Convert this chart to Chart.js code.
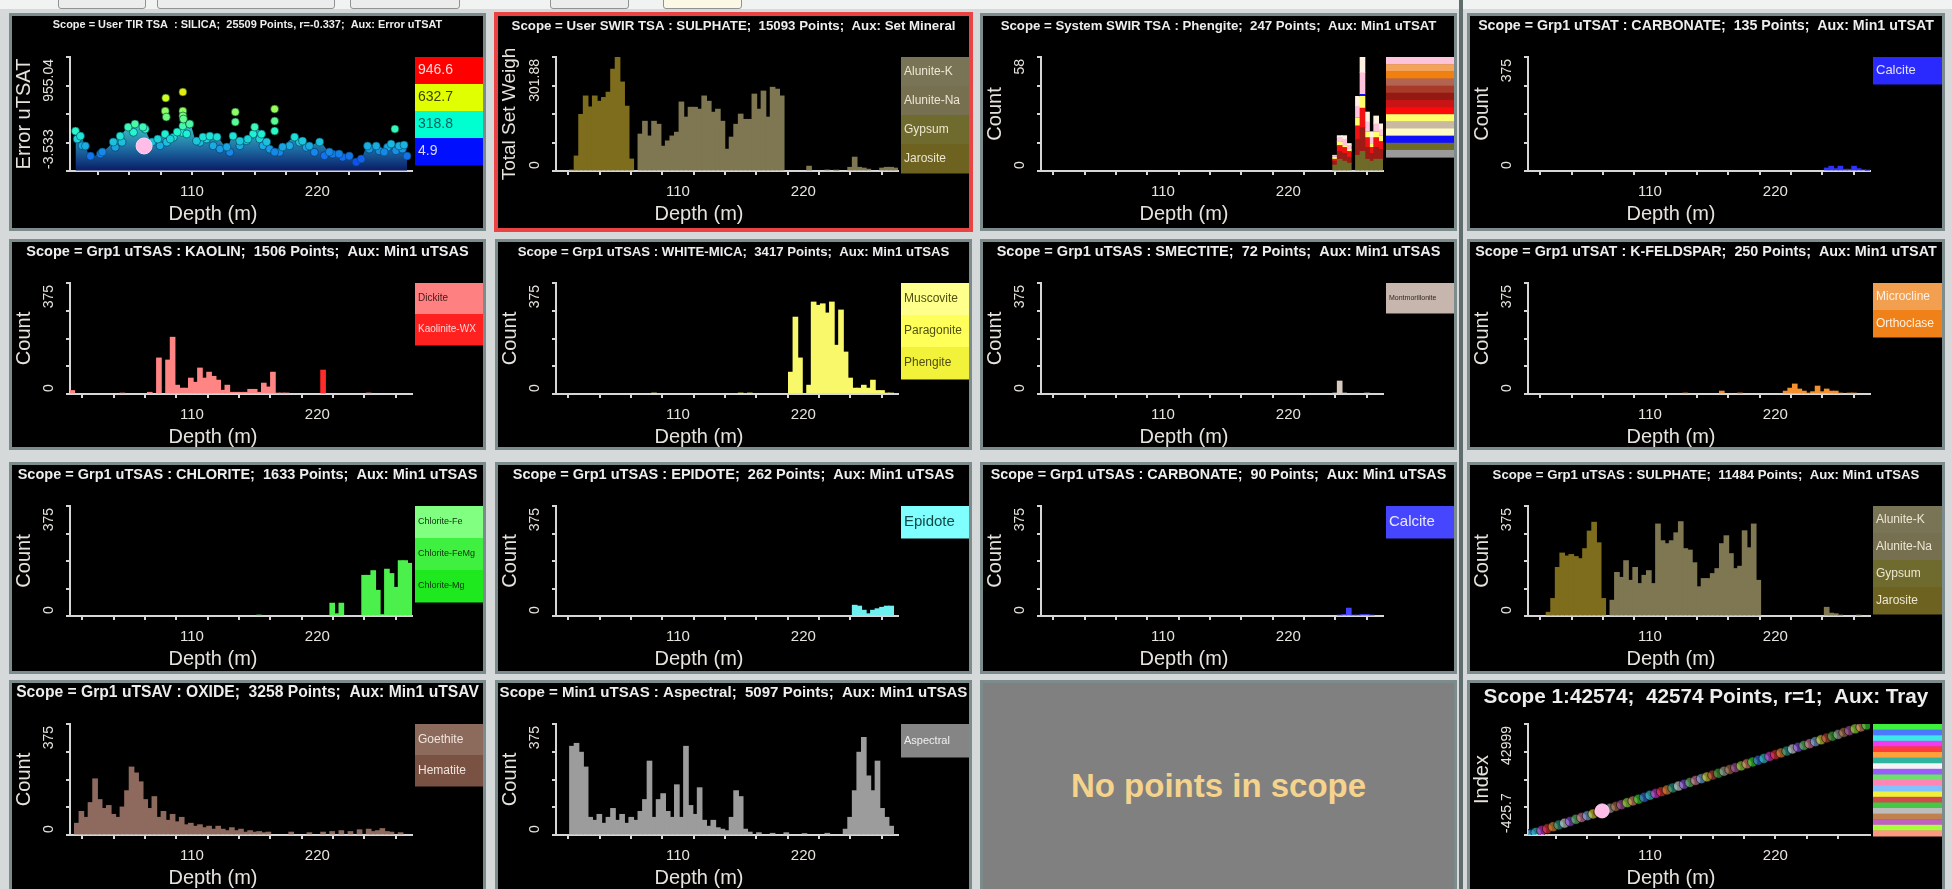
<!DOCTYPE html>
<html>
<head>
<meta charset="utf-8">
<title>Scope histograms</title>
<script src="https://cdn.jsdelivr.net/npm/chart.js@4.4.1/dist/chart.umd.min.js"></script>
<style>
  html, body { margin: 0; padding: 0; }
  body { width: 1952px; height: 889px; overflow: hidden; position: relative; background: #d5d9d9; font-family: "Liberation Sans", Arial, sans-serif; }
  .toolbar { position: absolute; left: 0; top: 0; width: 1952px; height: 9px; background: #f1f2f2; }
  .btn { position: absolute; top: -5px; height: 12px; border: 1px solid #8e9292; border-radius: 3px; background: #ececec; }
  .frame { position: absolute; background: #7c8b8b; }
  .panel { position: absolute; background: #000; overflow: hidden; }
  .panel canvas { display: block; }
  .selected { position: absolute; left: 494px; top: 12px; width: 479px; height: 220px; background: #ea4343; }
  .splitter { position: absolute; left: 1459px; top: 0; width: 4px; height: 889px; background: #5f6d6d; }
  .empty { background: #808080; display: flex; align-items: center; justify-content: center; color: #f6d38d; font-weight: bold; font-size: 33px; }
</style>
</head>
<body>
<div class="toolbar">
  <div class="btn" style="left:58px;width:86px"></div>
  <div class="btn" style="left:157px;width:176px"></div>
  <div class="btn" style="left:350px;width:108px"></div>
  <div class="btn" style="left:550px;width:77px"></div>
  <div class="btn" style="left:663px;width:77px;background:#fbf8e6"></div>
</div>
<div class="splitter"></div>
<div id="board"><div class="selected"></div></div>
<script>
// ---- depth axis (m) ----
const depthMin = 3;
const depthMax = 303;
const depthTicks = [27.5, 55, 82.5, 110, 137.5, 165, 192.5, 220, 247.5, 275];
const depthTickLabels = [110, 220];

// ---- SILICA, Error uTSAT (User TIR TSA) ----
const silicaTopDepth = [7.8, 12.2, 16.5, 21, 31.4, 41, 47, 54, 60, 67, 75, 80, 86.4, 91, 97, 102, 108, 114, 119.6, 125.7, 132, 140.6, 146, 152, 159, 165, 171, 175.5, 182.5, 189.5, 200, 207, 213, 222, 230.5, 239, 248, 254, 258.5, 264, 271.6, 278.6, 284.7, 291.7, 296, 298.6];
const silicaTopError = [332, 290, 207, 122, 156, 240, 290, 366, 392, 366, 240, 265, 307, 265, 324, 375, 392, 248, 282, 290, 282, 198, 290, 248, 265, 366, 307, 240, 156, 198, 282, 248, 207, 240, 156, 140, 122, 72, 98, 207, 207, 156, 224, 207, 215, 122];
const silicaInnerDepth = [9.3, 13.6, 29.7, 42.7, 48.6, 58.7, 69, 82, 87.9, 93.7, 101, 105.4, 117, 122.8, 128.6, 134.5, 143.2, 152, 157.8, 163.6, 169.4, 172.3, 178.1, 186.9, 195.6, 204.3, 210.2, 217.4, 226.2, 233.4, 242.1, 265.5, 274.2, 281.5, 288.8, 294.6];
const silicaInnerError = [266, 209, 139, 196, 238, 322, 349, 209, 238, 280, 322, 308, 238, 266, 209, 181, 154, 209, 251, 308, 266, 209, 181, 154, 209, 238, 196, 154, 125, 139, 112, 181, 167, 196, 167, 181];
const silicaHighDepth = [87, 86.5, 87.5, 102, 102, 102, 102.5, 108, 148, 148, 182.5, 182.5, 182.5, 288];
const silicaHighError = [610, 500, 450, 660, 500, 459, 433, 392, 492, 408, 517, 417, 333, 350];
const errorScaleValues = [946.6, 632.7, 318.8, 4.9];
const errorScaleColors = ['#ff1010', '#e0ff10', '#20f8d0', '#1020ff'];

// selected sample
const selectedDepth = [68];
const selectedError = [207];
const selectedIndex = [9000];

// ---- SULPHATE (User SWIR TSA, Total Set Weight) ----
const sulphateMinerals = ['Alunite-K', 'Alunite-Na', 'Gypsum', 'Jarosite'];
const swirJarositeDepth = [17, 21, 25, 29, 33, 37, 41, 45, 49, 53, 57, 61, 65, 69];
const swirJarositeWeight = [3, 40, 150, 199, 170, 199, 185, 195, 209, 270, 301, 236, 172, 32];
const swirAluniteDepth = [77, 81, 85, 89, 93, 97, 101, 105, 109, 113, 117, 121, 125, 129, 133, 137, 141, 145, 149, 153, 157, 161, 165, 169, 173, 177, 181, 185, 189, 193, 197, 201, 225, 241, 249, 261, 265, 269, 273, 277, 289, 293, 297, 301];
const swirAluniteWeight = [98, 132, 93, 132, 124, 66, 80, 93, 103, 183, 143, 169, 169, 164, 199, 185, 156, 164, 132, 58, 90, 124, 151, 137, 137, 204, 164, 212, 143, 222, 217, 199, 13, 3, 2, 10, 37, 10, 8, 5, 8, 10, 10, 8];

// ---- Phengite (System SWIR TSA), stacked by Min1 uTSAT ----
const phengiteDepth = [261, 265, 269, 273, 281, 285, 289, 293, 297, 301];
const phengiteQuartz = [3, 6, 5, 4, 8, 10, 6, 5, 6, 6];
const phengiteOrthoclase = [2, 4, 4, 3, 8, 12, 6, 4, 6, 5];
const phengiteAlbite = [1, 3, 3, 3, 7, 10, 5, 3, 5, 4];
const phengiteGypsum = [1, 2, 1, 1, 4, 6, 3, 2, 3, 3];
const phengiteOpal = [0, 0, 0, 0, 0, 1, 0, 0, 0, 0];
const phengiteMuscovite = [1, 2, 3, 2, 6, 11, 5, 3, 4, 3];
const phengiteJarosite = [0, 1, 2, 1, 5, 8, 5, 3, 4, 3];
const phengiteKeyColors = ['#ffc4dc', '#f3a35a', '#f08010', '#b36450', '#a83a2a', '#921a12', '#c81414', '#ff0a0a', '#ffff6e', '#c9b9a3', '#fffcc4', '#1010ff', '#6e6a28', '#9a9a9a'];

// ---- CARBONATE (Grp1 uTSAT) ----
const calciteTDepth = [265, 269, 273, 277, 281, 285, 289, 293, 297, 301];
const calciteTCount = [10, 16, 8, 16, 6, 6, 16, 8, 4, 2];

// ---- KAOLIN ----
const dickiteDepth = [5, 49, 73, 81, 89, 93, 97, 101, 105, 109, 113, 117, 121, 125, 129, 133, 137, 141, 145, 149, 153, 157, 161, 165, 169, 173, 177, 181, 185, 189, 193, 265];
const dickiteCount = [12, 3, 6, 122, 115, 192, 30, 20, 20, 54, 40, 88, 54, 74, 60, 47, 13, 30, 6, 6, 6, 6, 16, 16, 6, 37, 24, 74, 3, 3, 3, 3];
const kaoliniteDepth = [225];
const kaoliniteCount = [81];

// ---- WHITE-MICA ----
const whiteMicaDepth = [89, 165, 173, 209, 213, 217, 225, 229, 233, 237, 241, 245, 249, 253, 257, 261, 265, 269, 273, 277, 281, 285, 289, 293, 297];
const whiteMicaCount = [3, 2, 3, 74, 260, 122, 30, 311, 300, 305, 274, 311, 165, 284, 142, 54, 20, 20, 30, 20, 47, 12, 12, 3, 3];

// ---- SMECTITE ----
const smectiteDepth = [261, 265, 269, 289];
const smectiteCount = [3, 44, 3, 2];

// ---- K-FELDSPAR ----
const kfeldsparDepth = [141, 173, 189, 229, 233, 237, 241, 245, 249, 253, 257, 261, 265, 269, 273, 277, 285, 289];
const kfeldsparCount = [3, 10, 2, 10, 20, 34, 17, 10, 3, 8, 27, 8, 17, 10, 10, 3, 3, 3];

// ---- CHLORITE ----
const chloriteDepth = [169, 233, 237, 241, 261, 265, 269, 273, 277, 281, 285, 289, 293, 297, 301];
const chloriteCount = [3, 44, 8, 44, 139, 139, 155, 88, 5, 160, 145, 98, 189, 189, 180];

// ---- EPIDOTE ----
const epidoteDepth = [265, 269, 273, 277, 281, 285, 289, 293, 297];
const epidoteCount = [37, 34, 20, 8, 20, 25, 30, 34, 34];

// ---- CARBONATE (Grp1 uTSAS) ----
const calciteSDepth = [265, 269, 273, 277, 281, 285, 289, 293];
const calciteSCount = [3, 5, 27, 3, 3, 5, 5, 3];

// ---- SULPHATE (Grp1 uTSAS) ----
const tsasJarositeDepth = [21, 25, 29, 33, 37, 41, 45, 49, 53, 57, 61, 65, 69];
const tsasJarositeCount = [13, 60, 166, 215, 205, 210, 203, 196, 230, 290, 320, 250, 60];
const tsasAluniteDepth = [77, 81, 85, 89, 93, 97, 101, 105, 109, 113, 117, 121, 125, 129, 133, 137, 141, 145, 149, 153, 157, 161, 165, 169, 173, 177, 181, 185, 189, 193, 197, 201, 205, 265, 269, 273, 277, 293];
const tsasAluniteCount = [54, 149, 132, 189, 122, 166, 111, 139, 155, 111, 314, 257, 247, 257, 284, 322, 230, 225, 182, 100, 128, 128, 145, 162, 247, 274, 213, 162, 170, 291, 233, 314, 122, 30, 10, 8, 3, 3];

// ---- OXIDE (Grp1 uTSAV) ----
const oxideDepth = [9, 13, 17, 21, 25, 29, 33, 37, 41, 45, 49, 53, 57, 61, 65, 69, 73, 77, 81, 85, 89, 93, 97, 101, 105, 109, 113, 117, 121, 125, 129, 133, 137, 141, 145, 149, 153, 157, 161, 165, 169, 173, 177, 197, 213, 225, 233, 241, 249, 257, 265, 269, 273, 277, 281, 285, 293];
const oxideCount = [40, 80, 60, 110, 190, 120, 90, 100, 70, 60, 95, 150, 230, 210, 180, 120, 90, 130, 60, 80, 50, 70, 45, 60, 35, 40, 30, 35, 25, 30, 20, 30, 20, 15, 25, 15, 20, 10, 15, 10, 12, 8, 10, 10, 8, 10, 12, 15, 12, 18, 20, 12, 15, 22, 12, 10, 8];

// ---- Aspectral (Min1 uTSAS) ----
const aspectralDepth = [17, 21, 25, 29, 33, 37, 41, 45, 49, 53, 57, 61, 65, 69, 73, 77, 81, 85, 89, 93, 97, 101, 105, 109, 113, 117, 121, 125, 129, 133, 137, 141, 145, 149, 153, 157, 161, 165, 169, 173, 181, 193, 205, 221, 241, 257, 261, 265, 269, 273, 277, 281, 285, 289, 293, 297];
const aspectralCount = [300, 310, 280, 230, 60, 50, 70, 40, 60, 90, 50, 70, 40, 60, 50, 80, 120, 250, 60, 120, 140, 80, 60, 170, 60, 300, 100, 70, 160, 50, 30, 50, 25, 20, 15, 60, 150, 130, 20, 10, 8, 6, 8, 5, 6, 20, 60, 150, 280, 330, 200, 150, 250, 90, 60, 30];

// ---- Tray index vs depth ----
const trayDepth = [3, 5, 10, 15, 20, 25, 30, 35, 40, 45, 50, 55, 60, 65, 70, 75, 80, 85, 90, 95, 100, 105, 110, 115, 120, 125, 130, 135, 140, 145, 150, 155, 160, 165, 170, 175, 180, 185, 190, 195, 200, 205, 210, 215, 220, 225, 230, 235, 240, 245, 250, 255, 260, 265, 270, 275, 280, 285, 290, 295, 300];
const trayIndex = [-400, -100, 600, 1300, 2000, 2800, 3500, 4200, 4900, 5700, 6400, 7100, 7800, 8500, 9300, 10000, 10700, 11400, 12200, 12900, 13600, 14300, 15100, 15800, 16500, 17200, 18000, 18700, 19400, 20100, 20900, 21600, 22300, 23000, 23700, 24500, 25200, 25900, 26600, 27400, 28100, 28800, 29500, 30300, 31000, 31700, 32400, 33200, 33900, 34600, 35300, 36100, 36800, 37500, 38200, 38900, 39700, 40400, 41100, 41800, 42600];
const trayColors = ['#3cf03c', '#4a78ff', '#3ce8e8', '#f03cf0', '#ff3c3c', '#ffa03c', '#2fb4a0', '#f4f4f4', '#9a5cff', '#6ee06e', '#ff86b4', '#82c2ff', '#f0f03c', '#d24a4a', '#46c846', '#bdbdbd', '#c08050', '#c060c0', '#a8ff3c', '#ff9880'];

// ---- layout ----
const FONT = '"Liberation Sans", Arial, sans-serif';
const AXIS = '#d6d6d6';
const LABEL = '#e6e2dc';
const TITLE = '#ededed';
const cols = [{ x: 12, w: 471 }, { x: 498, w: 471 }, { x: 983, w: 471 }, { x: 1470, w: 472 }];
const rows = [{ y: 16, h: 212, axisH: 57 }, { y: 242, h: 205, axisH: 53 }, { y: 465, h: 206, axisH: 55 }, { y: 683, h: 206, axisH: 54 }];

const pts = (xs, ys) => xs.map((x, i) => ({ x, y: ys[i] }));

function hexRgb(h) {
  return [1, 3, 5].map(i => parseInt(h.slice(i, i + 2), 16));
}

// colour ramp used by the Error uTSAT legend
function errorColor(v) {
  const vals = errorScaleValues.slice().reverse();
  const cols = errorScaleColors.slice().reverse().map(hexRgb);
  if (v <= vals[0]) return `rgb(${cols[0]})`;
  for (let i = 1; i < vals.length; i++) {
    if (v <= vals[i]) {
      const t = (v - vals[i - 1]) / (vals[i] - vals[i - 1]);
      const c = cols[i - 1].map((a, k) => Math.round(a + (cols[i][k] - a) * t));
      return `rgb(${c})`;
    }
  }
  return `rgb(${cols[cols.length - 1]})`;
}

function addBox(col, row, cls) {
  const c = cols[col], r = rows[row];
  const board = document.getElementById('board');
  if (!(col === 1 && row === 0)) {
    const frame = document.createElement('div');
    frame.className = 'frame';
    Object.assign(frame.style, { left: c.x - 3 + 'px', top: r.y - 3 + 'px', width: c.w + 6 + 'px', height: r.h + 6 + 'px' });
    board.appendChild(frame);
  }
  const div = document.createElement('div');
  div.className = 'panel' + (cls ? ' ' + cls : '');
  Object.assign(div.style, { left: c.x + 'px', top: r.y + 'px', width: c.w + 'px', height: r.h + 'px' });
  board.appendChild(div);
  return div;
}

function fitFont(ctx, text, width, weight) {
  ctx.font = `${weight} 12px ${FONT}`;
  const size = 12 * width / ctx.measureText(text).width;
  return `${weight} ${size.toFixed(2)}px ${FONT}`;
}

function rotatedText(ctx, text, x, y, align) {
  ctx.save();
  ctx.translate(x, y);
  ctx.rotate(-Math.PI / 2);
  ctx.textAlign = align;
  ctx.fillText(text, 0, 0);
  ctx.restore();
}

// titles, axis captions and the colour key beside each plot
function decor(p) {
  return {
    id: 'panelDecor',
    afterDraw(chart) {
      const c = chart.ctx;
      const area = chart.chartArea;
      const xs = chart.scales.x, ys = chart.scales.y;
      c.save();
      c.textBaseline = 'middle';
      c.textAlign = 'center';
      c.fillStyle = TITLE;
      c.font = fitFont(c, p.title, p.titleW, 'bold');
      c.fillText(p.title, chart.width / 2, p.titleY || 10);

      c.fillStyle = LABEL;
      c.font = `15px ${FONT}`;
      depthTickLabels.forEach(v => c.fillText(String(v), xs.getPixelForValue(v), area.bottom + 21));
      c.font = `20px ${FONT}`;
      c.fillText('Depth (m)', area.left + 143, area.bottom + 43);

      c.font = `14px ${FONT}`;
      rotatedText(c, p.yLabels[0], area.left - 21, ys.getPixelForValue(p.yMin) - 2, 'left');
      rotatedText(c, p.yLabels[1], area.left - 21, ys.getPixelForValue(p.yMax) + 2, 'right');
      c.font = `${p.yTitleSize || 20}px ${FONT}`;
      rotatedText(c, p.yTitle, area.left - 46, (area.top + area.bottom) / 2, 'center');

      const lg = p.legend;
      if (lg) {
        const x0 = area.right + 3, w = chart.width - x0;
        lg.colors.forEach((col, i) => {
          const y0 = area.top + i * lg.itemH;
          c.fillStyle = col;
          c.fillRect(x0, y0, w, lg.itemH + 0.5);
          if (lg.labels) {
            c.fillStyle = Array.isArray(lg.text) ? lg.text[i] : lg.text;
            c.font = `${lg.font}px ${FONT}`;
            c.textAlign = 'left';
            c.fillText(lg.labels[i], x0 + 3, y0 + lg.itemH / 2);
          }
        });
      }
      c.restore();
    }
  };
}

function axis(min, max, ticks, side, size, stacked) {
  return {
    type: 'linear', min, max, offset: false, stacked,
    afterBuildTicks: s => { s.ticks = ticks.map(v => ({ value: v })); },
    afterFit: s => { if (side === 'w') s.width = size; else s.height = size; },
    ticks: { display: false },
    grid: { display: true, drawOnChartArea: false, drawTicks: true, tickLength: 4, color: AXIS, lineWidth: 2 },
    border: { display: true, color: AXIS, width: 2 }
  };
}

function chartOptions(p, w, row, stacked) {
  const yTicks = [0, 1, 2, 3, 4].map(k => p.yMin + (p.yMax - p.yMin) * k / 4);
  return {
    responsive: false,
    animation: false,
    events: [],
    layout: { padding: { left: 0, top: 41, right: w - 400, bottom: 0 } },
    plugins: { legend: { display: false }, tooltip: { enabled: false }, title: { display: false } },
    scales: {
      x: axis(depthMin, depthMax, depthTicks, 'h', rows[row].axisH, stacked),
      y: axis(p.yMin, p.yMax, yTicks, 'w', 58, stacked)
    }
  };
}

function makeCanvas(div) {
  const cv = document.createElement('canvas');
  cv.width = div.clientWidth;
  cv.height = div.clientHeight;
  div.appendChild(cv);
  return cv;
}

const histPanels = [
  { col: 1, row: 0, title: 'Scope = User SWIR TSA : SULPHATE;  15093 Points;  Aux: Set Mineral', titleW: 444,
    yMin: 0, yMax: 301.88, yLabels: ['0', '301.88'], yTitle: 'Total Set Weigh', yTitleSize: 19,
    series: [
      { label: 'Jarosite', depth: swirJarositeDepth, value: swirJarositeWeight, color: '#7f6d1e' },
      { label: 'Alunite-K', depth: swirAluniteDepth, value: swirAluniteWeight, color: '#7f7752' }],
    legend: { labels: sulphateMinerals, colors: ['#7a7456', '#777050', '#6f6a2e', '#6e6220'], text: '#ece6d2', itemH: 29, font: 12 } },
  { col: 2, row: 0, title: 'Scope = System SWIR TSA : Phengite;  247 Points;  Aux: Min1 uTSAT', titleW: 436,
    yMin: 0, yMax: 58, yLabels: ['0', '58'], yTitle: 'Count',
    series: [
      { label: 'Quartz', depth: phengiteDepth, value: phengiteQuartz, color: '#6e6a28' },
      { label: 'Orthoclase', depth: phengiteDepth, value: phengiteOrthoclase, color: '#9a1c14' },
      { label: 'Albite', depth: phengiteDepth, value: phengiteAlbite, color: '#f01212' },
      { label: 'Gypsum', depth: phengiteDepth, value: phengiteGypsum, color: '#ffff6e' },
      { label: 'Opal', depth: phengiteDepth, value: phengiteOpal, color: '#1010ff' },
      { label: 'Muscovite', depth: phengiteDepth, value: phengiteMuscovite, color: '#ffc4dc' },
      { label: 'Jarosite', depth: phengiteDepth, value: phengiteJarosite, color: '#fff2e0' }],
    legend: { colors: phengiteKeyColors, itemH: 7.15 } },
  { col: 3, row: 0, title: 'Scope = Grp1 uTSAT : CARBONATE;  135 Points;  Aux: Min1 uTSAT', titleW: 456,
    yMin: 0, yMax: 375, yLabels: ['0', '375'], yTitle: 'Count',
    series: [{ label: 'Calcite', depth: calciteTDepth, value: calciteTCount, color: '#3030ff' }],
    legend: { labels: ['Calcite'], colors: ['#2a2aff'], text: '#e0e0ff', itemH: 27, font: 13 } },
  { col: 0, row: 1, title: 'Scope = Grp1 uTSAS : KAOLIN;  1506 Points;  Aux: Min1 uTSAS', titleW: 443,
    yMin: 0, yMax: 375, yLabels: ['0', '375'], yTitle: 'Count',
    series: [
      { label: 'Dickite', depth: dickiteDepth, value: dickiteCount, color: '#ff8484' },
      { label: 'Kaolinite-WX', depth: kaoliniteDepth, value: kaoliniteCount, color: '#ff2a2a' }],
    legend: { labels: ['Dickite', 'Kaolinite-WX'], colors: ['#ff8080', '#ff2020'], text: ['#401818', '#ffd6d6'], itemH: 31, font: 10 } },
  { col: 1, row: 1, title: 'Scope = Grp1 uTSAS : WHITE-MICA;  3417 Points;  Aux: Min1 uTSAS', titleW: 432,
    yMin: 0, yMax: 375, yLabels: ['0', '375'], yTitle: 'Count',
    series: [{ label: 'Phengite', depth: whiteMicaDepth, value: whiteMicaCount, color: '#f8f86a' }],
    legend: { labels: ['Muscovite', 'Paragonite', 'Phengite'], colors: ['#ffff8c', '#ffff5a', '#f2f23a'], text: '#505010', itemH: 32, font: 12 } },
  { col: 2, row: 1, title: 'Scope = Grp1 uTSAS : SMECTITE;  72 Points;  Aux: Min1 uTSAS', titleW: 444,
    yMin: 0, yMax: 375, yLabels: ['0', '375'], yTitle: 'Count',
    series: [{ label: 'Montmorillonite', depth: smectiteDepth, value: smectiteCount, color: '#d6cabe' }],
    legend: { labels: ['Montmorillonite'], colors: ['#c6b6ae'], text: '#302820', itemH: 30, font: 7 } },
  { col: 3, row: 1, title: 'Scope = Grp1 uTSAT : K-FELDSPAR;  250 Points;  Aux: Min1 uTSAT', titleW: 462,
    yMin: 0, yMax: 375, yLabels: ['0', '375'], yTitle: 'Count',
    series: [{ label: 'Orthoclase', depth: kfeldsparDepth, value: kfeldsparCount, color: '#f39030' }],
    legend: { labels: ['Microcline', 'Orthoclase'], colors: ['#f2a050', '#f08018'], text: '#fff0e0', itemH: 27, font: 12 } },
  { col: 0, row: 2, title: 'Scope = Grp1 uTSAS : CHLORITE;  1633 Points;  Aux: Min1 uTSAS', titleW: 460,
    yMin: 0, yMax: 375, yLabels: ['0', '375'], yTitle: 'Count',
    series: [{ label: 'Chlorite-FeMg', depth: chloriteDepth, value: chloriteCount, color: '#4cf04c' }],
    legend: { labels: ['Chlorite-Fe', 'Chlorite-FeMg', 'Chlorite-Mg'], colors: ['#80ff80', '#40f040', '#1ee81e'], text: '#103010', itemH: 32, font: 9 } },
  { col: 1, row: 2, title: 'Scope = Grp1 uTSAS : EPIDOTE;  262 Points;  Aux: Min1 uTSAS', titleW: 442,
    yMin: 0, yMax: 375, yLabels: ['0', '375'], yTitle: 'Count',
    series: [{ label: 'Epidote', depth: epidoteDepth, value: epidoteCount, color: '#6ef0f0' }],
    legend: { labels: ['Epidote'], colors: ['#80ffff'], text: '#104848', itemH: 32, font: 15 } },
  { col: 2, row: 2, title: 'Scope = Grp1 uTSAS : CARBONATE;  90 Points;  Aux: Min1 uTSAS', titleW: 456,
    yMin: 0, yMax: 375, yLabels: ['0', '375'], yTitle: 'Count',
    series: [{ label: 'Calcite', depth: calciteSDepth, value: calciteSCount, color: '#4444ff' }],
    legend: { labels: ['Calcite'], colors: ['#4646ff'], text: '#e8e8ff', itemH: 32, font: 15 } },
  { col: 3, row: 2, title: 'Scope = Grp1 uTSAS : SULPHATE;  11484 Points;  Aux: Min1 uTSAS', titleW: 427,
    yMin: 0, yMax: 375, yLabels: ['0', '375'], yTitle: 'Count',
    series: [
      { label: 'Jarosite', depth: tsasJarositeDepth, value: tsasJarositeCount, color: '#7f6d1e' },
      { label: 'Alunite-K', depth: tsasAluniteDepth, value: tsasAluniteCount, color: '#7f7752' }],
    legend: { labels: sulphateMinerals, colors: ['#7a7456', '#777050', '#6f6a2e', '#6e6220'], text: '#ece6d2', itemH: 27, font: 12 } },
  { col: 0, row: 3, title: 'Scope = Grp1 uTSAV : OXIDE;  3258 Points;  Aux: Min1 uTSAV', titleW: 463,
    yMin: 0, yMax: 375, yLabels: ['0', '375'], yTitle: 'Count',
    series: [{ label: 'Goethite', depth: oxideDepth, value: oxideCount, color: '#8e6a5e' }],
    legend: { labels: ['Goethite', 'Hematite'], colors: ['#8c6a5c', '#7a5244'], text: '#f0e4dc', itemH: 31, font: 12 } },
  { col: 1, row: 3, title: 'Scope = Min1 uTSAS : Aspectral;  5097 Points;  Aux: Min1 uTSAS', titleW: 468,
    yMin: 0, yMax: 375, yLabels: ['0', '375'], yTitle: 'Count',
    series: [{ label: 'Aspectral', depth: aspectralDepth, value: aspectralCount, color: '#9c9c9c' }],
    legend: { labels: ['Aspectral'], colors: ['#858585'], text: '#f0f0f0', itemH: 33, font: 11 } }
];

histPanels.forEach(p => {
  const div = addBox(p.col, p.row);
  new Chart(makeCanvas(div), {
    type: 'bar',
    data: {
      datasets: p.series.map(s => ({
        label: s.label,
        data: pts(s.depth, s.value),
        backgroundColor: s.color,
        borderWidth: 0,
        barThickness: 5
      }))
    },
    options: chartOptions(p, cols[p.col].w, p.row, true),
    plugins: [decor(p)]
  });
});

// SILICA error scatter
const silica = {
  col: 0, row: 0, title: 'Scope = User TIR TSA  : SILICA;  25509 Points, r=-0.337;  Aux: Error uTSAT', titleW: 390, titleY: 9,
  yMin: -3.533, yMax: 955.04, yLabels: ['-3.533', '955.04'], yTitle: 'Error uTSAT',
  legend: { labels: errorScaleValues.map(v => v.toFixed(1)), colors: ['#ff0000', '#e0ff00', '#00ffd0', '#0010ff'], text: ['#ffd8d8', '#404000', '#006060', '#d8d8ff'], itemH: 27, font: 14 }
};
new Chart(makeCanvas(addBox(silica.col, silica.row)), {
  type: 'scatter',
  data: {
    datasets: [
      { data: pts(selectedDepth, selectedError), backgroundColor: '#ffbde8', borderColor: '#ffd6f2', pointRadius: 8 },
      { data: pts(silicaHighDepth, silicaHighError), backgroundColor: c => errorColor(c.raw.y), borderColor: 'rgba(0,60,40,0.6)', borderWidth: 1, pointRadius: 4 },
      { data: pts(silicaTopDepth, silicaTopError), backgroundColor: c => errorColor(c.raw.y), borderColor: 'rgba(0,70,90,0.6)', borderWidth: 1, pointRadius: 4 },
      { data: pts(silicaInnerDepth, silicaInnerError), backgroundColor: c => errorColor(c.raw.y), borderColor: 'rgba(0,50,90,0.6)', borderWidth: 1, pointRadius: 4 },
      {
        type: 'line', data: pts(silicaTopDepth, silicaTopError), showLine: true, pointRadius: 0, borderWidth: 0,
        tension: 0.35, fill: 'origin',
        backgroundColor: ctx => {
          const chart = ctx.chart;
          if (!chart.chartArea) return 'rgba(0,0,0,0)';
          const y = chart.scales.y;
          const g = chart.ctx.createLinearGradient(0, y.getPixelForValue(0), 0, y.getPixelForValue(380));
          g.addColorStop(0, '#0a1c66');
          g.addColorStop(0.4, '#1a5e9a');
          g.addColorStop(1, '#3cc2c6');
          return g;
        }
      }
    ]
  },
  options: chartOptions(silica, cols[0].w, 0, false),
  plugins: [decor(silica)]
});

// empty scope
const empty = addBox(2, 3, 'empty');
empty.textContent = 'No points in scope';

// tray index vs depth
const tray = {
  col: 3, row: 3, title: 'Scope 1:42574;  42574 Points, r=1;  Aux: Tray', titleW: 445, titleY: 14,
  yMin: -425.7, yMax: 42999, yLabels: ['-425.7', '42999'], yTitle: 'Index',
  legend: { colors: trayColors, itemH: 5.6 }
};
const trayFill = trayColors.map(h => `rgba(${hexRgb(h)},0.55)`);
new Chart(makeCanvas(addBox(tray.col, tray.row)), {
  type: 'scatter',
  data: {
    datasets: [
      { data: pts(selectedDepth, selectedIndex), backgroundColor: '#ffbde8', borderColor: '#ffd6f2', pointRadius: 7 },
      { data: pts(trayDepth, trayIndex), backgroundColor: c => trayFill[c.dataIndex % trayFill.length], borderColor: 'rgba(0,0,0,0.55)', borderWidth: 1, pointRadius: 5 }
    ]
  },
  options: chartOptions(tray, cols[3].w, 3, false),
  plugins: [decor(tray)]
});
</script>
</body>
</html>
